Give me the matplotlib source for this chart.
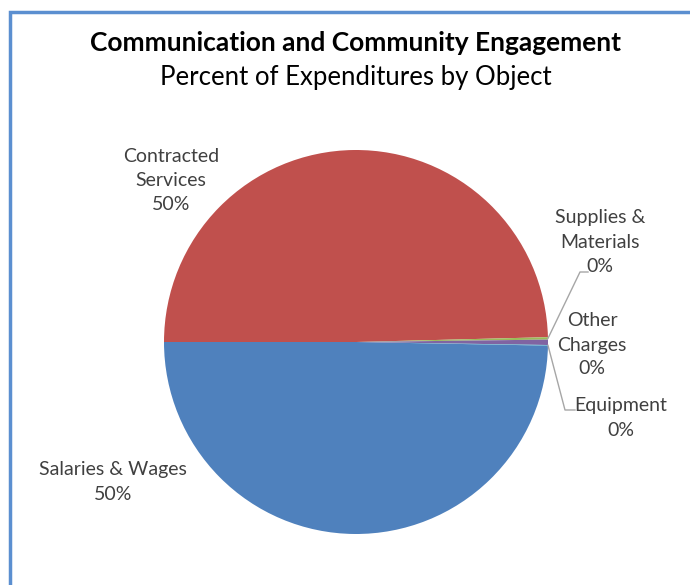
import numpy as np
import matplotlib.pyplot as plt
from matplotlib.patches import Rectangle

# expenditure shares by object (percent)
categories = ["Salaries & Wages", "Contracted Services", "Supplies & Materials",
              "Other Charges", "Equipment"]
shares = [49.7, 49.6, 0.2, 0.45, 0.05]
colors = ["#4F81BD", "#C0504D", "#9BBB59", "#8064A2", "#4BACC6"]

plt.rcParams["font.family"] = ["Lato", "DejaVu Sans"]

W, H = 690, 585
fig = plt.figure(figsize=(W / 100, H / 100), dpi=100)

# pie centre / radius in pixels
cx, cy, r = 356, 342, 192
ax = fig.add_axes([(cx - r) / W, (H - cy - r) / H, 2 * r / W, 2 * r / H])

start = -180 + 360 * shares[0] / 100
wedges, _ = ax.pie(shares, colors=colors, startangle=start, counterclock=False,
                   radius=1, wedgeprops=dict(linewidth=0))
ax.set_xlim(-1, 1)
ax.set_ylim(-1, 1)
ax.set_aspect("equal")


def px(x, y):
    return (x - cx) / r, (cy - y) / r


def mid_angle(w):
    return np.deg2rad((w.theta1 + w.theta2) / 2)


lbl_color = "#404040"
lbl_size = 14

label_pos = {
    "Salaries & Wages": (113, 482, "Salaries & Wages"),
    "Contracted Services": (171, 181, "Contracted\nServices"),
    "Supplies & Materials": (600, 242, "Supplies &\nMaterials"),
    "Other Charges": (592, 345, "Other\nCharges"),
    "Equipment": (621, 418, "Equipment"),
}

for cat, val in zip(categories, shares):
    x, y, name = label_pos[cat]
    tx, ty = px(x, y)
    ax.text(tx, ty, f"{name}\n{val:.0f}%", ha="center", va="center",
            fontsize=lbl_size, color=lbl_color, linespacing=1.5, clip_on=False)

# leader lines for the thin slices
lead = "#A6A6A6"
a = mid_angle(wedges[2])
p1, p2 = px(580, 272), px(588, 272)
ax.plot([np.cos(a), p1[0], p2[0]], [np.sin(a), p1[1], p2[1]],
        color=lead, lw=1, clip_on=False)
a = mid_angle(wedges[4])
p1, p2 = px(565, 410), px(575, 410)
ax.plot([np.cos(a), p1[0], p2[0]], [np.sin(a), p1[1], p2[1]],
        color=lead, lw=1, clip_on=False)

fig.text(cx / W, 1 - 43 / H, "Communication and Community Engagement",
         ha="center", va="center", fontsize=19, fontweight="bold", color="black")
fig.text(cx / W, 1 - 78 / H, "Percent of Expenditures by Object",
         ha="center", va="center", fontsize=18.5, color="black")

# chart border
fig.patches.append(Rectangle((10 / W, -0.1), 1.2, 1.1 - 12 / H,
                             transform=fig.transFigure, fill=False,
                             edgecolor="#5B8FD0", linewidth=2.5))

fig.savefig("out.png", dpi=100)
